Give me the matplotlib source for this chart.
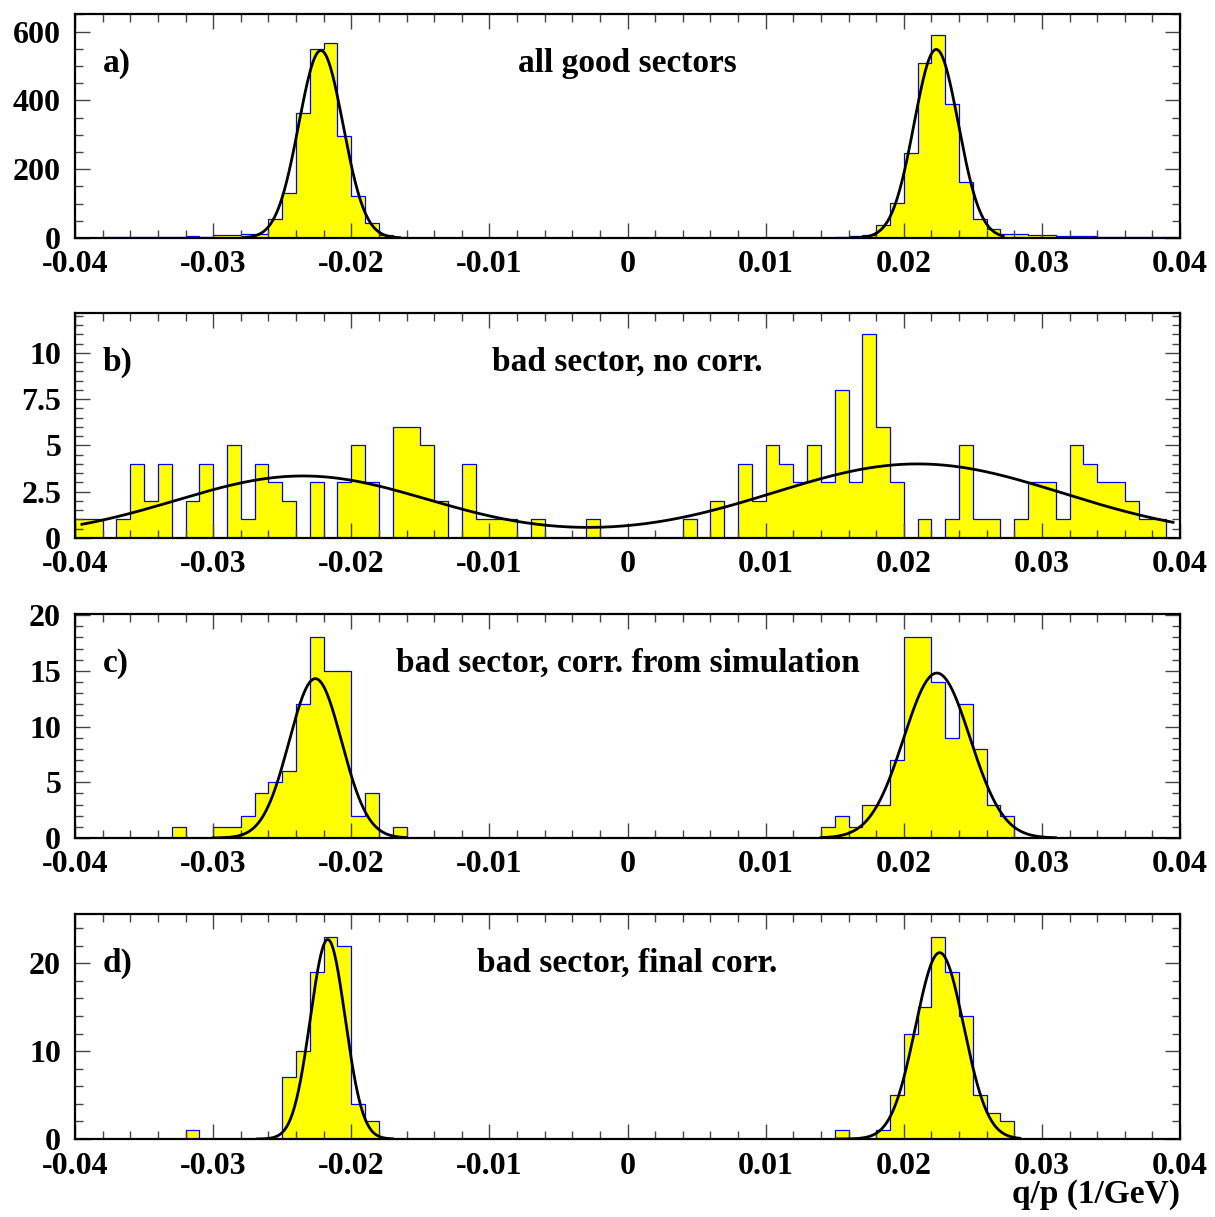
import numpy as np
import matplotlib
matplotlib.use('Agg')
import matplotlib.pyplot as plt
from matplotlib.ticker import MultipleLocator, FuncFormatter

plt.rcParams['font.family'] = ['Liberation Serif', 'DejaVu Serif']
plt.rcParams['font.weight'] = 'bold'

# 80 bins of width 0.001 from -0.04 to 0.04
edges = np.linspace(-0.04, 0.04, 81)

counts_a = [1, 1, 2, 2, 2, 4, 4, 3, 6, 4,
            9, 9, 12, 12, 56, 132, 364, 550, 567, 297,
            123, 44, 10, 4, 1, 1, 0, 1, 0, 0,
            0, 0, 0, 0, 0, 0, 0, 0, 0, 0,
            0, 0, 0, 0, 0, 0, 0, 0, 0, 0,
            1, 1, 1, 1, 1, 2, 5, 8, 38, 103,
            246, 509, 591, 390, 163, 56, 27, 13, 13, 9,
            9, 6, 6, 5, 4, 4, 3, 3, 2, 3]
counts_b = [1, 1, 0, 1, 4, 2, 4, 0, 2, 4,
            0, 5, 1, 4, 3, 2, 0, 3, 0, 3,
            5, 3, 0, 6, 6, 5, 2, 0, 4, 1,
            1, 1, 0, 1, 0, 0, 0, 1, 0, 0,
            0, 0, 0, 0, 1, 0, 2, 0, 4, 2,
            5, 4, 3, 5, 3, 8, 3, 11, 6, 3,
            0, 1, 0, 1, 5, 1, 1, 0, 1, 3,
            3, 1, 5, 4, 3, 3, 2, 1, 1, 0]
counts_c = [0, 0, 0, 0, 0, 0, 0, 1, 0, 0,
            1, 1, 2, 4, 5, 6, 12, 18, 15, 15,
            2, 4, 0, 1, 0, 0, 0, 0, 0, 0,
            0, 0, 0, 0, 0, 0, 0, 0, 0, 0,
            0, 0, 0, 0, 0, 0, 0, 0, 0, 0,
            0, 0, 0, 0, 1, 2, 1, 3, 3, 7,
            18, 18, 14, 9, 12, 8, 3, 2, 0, 0,
            0, 0, 0, 0, 0, 0, 0, 0, 0, 0]
counts_d = [0, 0, 0, 0, 0, 0, 0, 0, 1, 0,
            0, 0, 0, 0, 0, 7, 10, 19, 23, 22,
            4, 2, 0, 0, 0, 0, 0, 0, 0, 0,
            0, 0, 0, 0, 0, 0, 0, 0, 0, 0,
            0, 0, 0, 0, 0, 0, 0, 0, 0, 0,
            0, 0, 0, 0, 0, 1, 0, 0, 1, 5,
            12, 15, 23, 19, 14, 5, 3, 2, 0, 0,
            0, 0, 0, 0, 0, 0, 0, 0, 0, 0]

# gaussian fits: list of curves, each = (list of (amp, mean, sigma), x_lo, x_hi)
fits_a = [([(545, -0.0222, 0.0016)], -0.0278, -0.0165),
          ([(548, 0.02235, 0.0016)], 0.0163, 0.0272)]
fits_b = [([(3.35, -0.0235, 0.0092), (4.0, 0.021, 0.0105)], -0.0395, 0.0395)]
fits_c = [([(14.3, -0.0226, 0.0019)], -0.030, -0.016),
          ([(14.8, 0.0224, 0.0024)], 0.014, 0.031)]
fits_d = [([(22.7, -0.0217, 0.00126)], -0.0268, -0.017),
          ([(21.2, 0.0226, 0.00174)], 0.0152, 0.0284)]

titles = ['all good sectors', 'bad sector, no corr.',
          'bad sector, corr. from simulation', 'bad sector, final corr.']
tags = ['a)', 'b)', 'c)', 'd)']
ymax = [651, 12.15, 20.1, 25.6]
ymajor = [200, 2.5, 5, 10]
yminor = [50, 0.5, 1, 2]
# panel top/bottom in pixels
frames = [(14, 238), (313, 538), (614, 838), (914, 1139)]

W, H = 1215, 1217
fig = plt.figure(figsize=(W / 100, H / 100), dpi=100)


def gauss_sum(x, pars):
    y = np.zeros_like(x)
    for amp, mu, sig in pars:
        y += amp * np.exp(-0.5 * ((x - mu) / sig) ** 2)
    return y


def xfmt(v, pos):
    if abs(v) < 1e-9:
        return '0'
    return '%.2f' % v


for i, (counts, fits) in enumerate(zip([counts_a, counts_b, counts_c, counts_d],
                                        [fits_a, fits_b, fits_c, fits_d])):
    top, bot = frames[i]
    ax = fig.add_axes([75 / W, 1 - bot / H, 1105 / W, (bot - top) / H])
    ax.stairs(counts, edges, fill=True, color='#ffff00', zorder=1)
    ax.stairs(counts, edges, baseline=0, color='#0000ff', lw=0.9, zorder=1.2)
    for pars, lo, hi in fits:
        xs = np.linspace(lo, hi, 400)
        ax.plot(xs, gauss_sum(xs, pars), color='black', lw=2.0, zorder=3)

    ax.set_xlim(-0.04, 0.04)
    ax.set_ylim(0, ymax[i])
    ax.xaxis.set_major_locator(MultipleLocator(0.01))
    ax.xaxis.set_minor_locator(MultipleLocator(0.002))
    ax.xaxis.set_major_formatter(FuncFormatter(xfmt))
    ax.yaxis.set_major_locator(MultipleLocator(ymajor[i]))
    ax.yaxis.set_minor_locator(MultipleLocator(yminor[i]))
    ax.yaxis.set_major_formatter(FuncFormatter(lambda v, p: '%g' % v))
    ax.tick_params(which='both', direction='in', top=True, right=True,
                   color='#444444', width=1, labelsize=23)
    ax.tick_params(which='major', length=11)
    ax.tick_params(which='minor', length=5.5)
    ax.tick_params(axis='x', pad=9)
    ax.tick_params(axis='y', pad=10)
    for sp in ax.spines.values():
        sp.set_linewidth(1.6)

    ax.text(0.5, 0.78, titles[i], transform=ax.transAxes, ha='center',
            va='center', fontsize=24, fontweight='bold')
    ax.text(0.025, 0.78, tags[i], transform=ax.transAxes, ha='left',
            va='center', fontsize=24, fontweight='bold')

fig.text(1180 / W, 1 - 1195 / H, 'q/p (1/GeV)', ha='right', va='center',
         fontsize=24, fontweight='bold')

plt.savefig('out.png', dpi=100)
